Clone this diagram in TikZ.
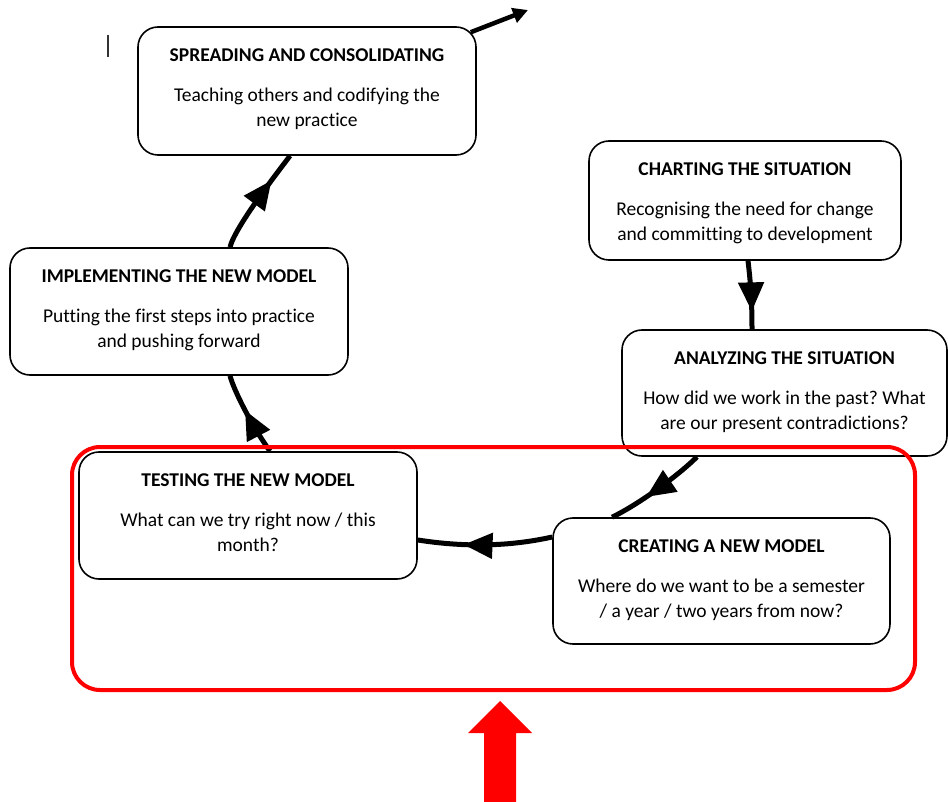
\documentclass[tikz,border=0pt]{standalone}
\usepackage{fontspec}
\setmainfont{Carlito}[Ligatures=NoCommon]
\frenchspacing
\usetikzlibrary{arrows.meta,decorations.markings}
\tikzset{
  stage/.style={draw=black, line width=1.6pt, fill=white, rounded corners=20pt, inner sep=0pt},
  stagetext/.style={align=center, inner sep=0pt, font=\fontsize{19.5}{25}\selectfont},
  flow/.style={line width=5pt, draw=black},
  midtip/.style={postaction=decorate, decoration={markings,
    mark=at position #1 with {\arrow{Triangle[length=29pt,width=25pt]}}}},
  focus/.style={draw=red, line width=4pt, rounded corners=28pt},
}
% a stage box: name, centre x, centre y, width, height, title, description
\newcommand\phasebox[7]{%
  \node[stage, minimum width=#4, minimum height=#5] (#1) at (#2,#3) {};
  \node[stagetext, anchor=north] (#1-text) at ([yshift=-22pt]#1.north) {\textbf{#6}\\[15pt]#7};
}
\begin{document}
\begin{tikzpicture}[x=1pt,y=-1pt]
\useasboundingbox (0,0) rectangle (948,802);

% text cursor mark
\draw[line width=1.2pt, black!80] (108,35) -- (108,57);

% the six stages of the cycle
\phasebox{spread}{307}{91}{338pt}{128pt}{SPREADING AND CONSOLIDATING}{Teaching others and codifying the\\new practice}
\phasebox{chart}{745}{200.5}{312pt}{119pt}{CHARTING THE SITUATION}{Recognising the need for change\\and committing to development}
\phasebox{impl}{179}{311.5}{338pt}{127pt}{IMPLEMENTING THE NEW MODEL}{Putting the first steps into practice\\and pushing forward}
\phasebox{analyze}{784.5}{393}{325pt}{126pt}{ANALYZING THE SITUATION}{How did we work in the past? What\\are our present contradictions?}
\phasebox{test}{248}{515.5}{338pt}{127pt}{TESTING THE NEW MODEL}{What can we try right now / this\\month?}
\phasebox{create}{721.5}{581}{337pt}{126pt}{CREATING A NEW MODEL}{Where do we want to be a semester\\/ a year / two years from now?}

\coordinate (onward) at (528,10);

% cycle connectors
\draw[flow, midtip=0.74] ([xshift=3pt]chart.south) .. controls +(3,25) and +(0,-25) .. ([xshift=-32.5pt]analyze.north);
\draw[flow, midtip=0.62] ([xshift=-87.5pt]analyze.south) .. controls +(-20,20) and +(25,-12) .. ([xshift=-109.5pt]create.north);
\draw[flow, midtip=0.66] ([yshift=44pt]create.west) .. controls +(-45,10) and +(45,7) .. ([yshift=-24.5pt]test.east);
\draw[flow, midtip=0.56] ([xshift=22pt]test.north) .. controls +(-18,-25) and +(4,15) .. ([xshift=51pt]impl.south);
\draw[flow, midtip=0.72] ([xshift=51pt]impl.north) .. controls +(5,-20) and +(-15,20) .. ([xshift=-17pt]spread.south);
\draw[line width=4.5pt, -{Triangle[length=15pt,width=15pt]}] ([xshift=-6pt,yshift=-6pt]spread.north east) -- (onward);

% highlighted phase
\draw[focus] (72,447) rectangle (915,690);

% pointer to the highlighted phase
\fill[red] (500,701) -- (532,733) -- (516,733) -- (516,802) -- (484,802) -- (484,733) -- (468,733) -- cycle;
\end{tikzpicture}
\end{document}
